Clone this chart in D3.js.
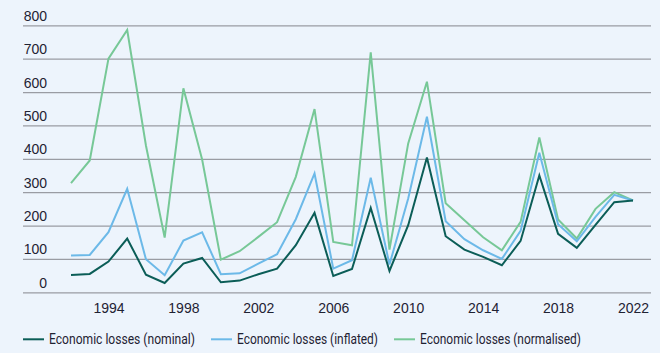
<!DOCTYPE html>
<meta charset="utf-8">
<style>
  body { margin: 0; background: #edf4fc; }
  svg { display: block; font-family: Roboto, "Noto Sans", sans-serif; }
  .tick text { fill: #1f2233; font-size: 14px; }
</style>
<body>
<script src="https://cdn.jsdelivr.net/npm/d3@7"></script>
<script>

// years 1992 - 2022
var years = d3.range(1992, 2023);

// economic losses
var nominal = [52, 55, 92, 161, 53, 28, 86, 103, 30, 35, 54, 71, 141, 238, 49, 70,
               253, 64, 201, 404, 168, 128, 106, 81, 154, 350, 175, 133, 202, 270, 275];
var inflated = [110, 112, 180, 310, 99, 51, 155, 180, 54, 57, 86, 114, 219, 356, 71, 96,
                343, 83, 281, 526, 213, 159, 126, 100, 184, 418, 204, 153, 226, 292, 275];
var normalised = [327, 395, 700, 786, 440, 164, 611, 398, 98, 123, 166, 210, 346, 549, 151, 141,
                  719, 128, 446, 631, 267, 216, 165, 126, 211, 464, 218, 161, 250, 300, 275];

var yTicks = [0, 100, 200, 300, 400, 500, 600, 700, 800];
var xTicks = [1994, 1998, 2002, 2006, 2010, 2014, 2018, 2022];

var series = [
    {name: "Economic losses (nominal)", values: nominal, color: "#0b5d57"},
    {name: "Economic losses (inflated)", values: inflated, color: "#6cb9e8"},
    {name: "Economic losses (normalised)", values: normalised, color: "#77c897"}
];

var width = 660, height = 353;
var plotLeft = 23, plotRight = 651;

var x = d3.scaleLinear().domain([1992, 2022]).range([71, 633]);
var y = d3.scaleLinear().domain([0, 800]).range([292.3, 25.3]);

var svg = d3.select("body").append("svg")
    .attr("width", width)
    .attr("height", height);

// gridlines + y labels (labels sit above the line)
var yAxis = svg.append("g")
    .attr("transform", "translate(" + plotLeft + ",0)")
    .call(d3.axisRight(y).tickValues(yTicks).tickSize(plotRight - plotLeft).tickFormat(d3.format("d")));
yAxis.select(".domain").remove();
yAxis.selectAll(".tick line").attr("stroke", "#9a9ca3").attr("stroke-width", 1.2);
yAxis.selectAll(".tick text")
    .attr("x", 24)
    .attr("dy", -5)
    .attr("text-anchor", "end");

// x labels
var xAxis = svg.append("g")
    .attr("transform", "translate(0," + y(0) + ")")
    .call(d3.axisBottom(x).tickValues(xTicks).tickSize(0).tickFormat(d3.format("d")));
xAxis.select(".domain").remove();
xAxis.selectAll(".tick text").attr("y", 10.5).attr("dy", "0.71em");

var line = d3.line()
    .x(function (d, i) { return x(years[i]); })
    .y(function (d) { return y(d); });

// draw normalised first so nominal is on top
series.slice().reverse().forEach(function (s) {
    svg.append("path")
        .datum(s.values)
        .attr("fill", "none")
        .attr("stroke", s.color)
        .attr("stroke-width", 2)
        .attr("d", line);
});

// legend - text in the original is a condensed face, so squeeze to width
var legendX = [23, 211, 394];
var legendW = [146, 141, 161];
var legend = svg.selectAll(".legend")
    .data(series)
    .enter().append("g")
    .attr("class", "legend")
    .attr("transform", function (d, i) { return "translate(" + legendX[i] + ",339.3)"; });

legend.append("line")
    .attr("x1", 0).attr("x2", 21)
    .attr("stroke", function (d) { return d.color; })
    .attr("stroke-width", 2);

legend.append("text")
    .attr("x", 26)
    .attr("dy", "0.35em")
    .attr("fill", "#1f2233")
    .attr("textLength", function (d, i) { return legendW[i]; })
    .attr("lengthAdjust", "spacingAndGlyphs")
    .style("font-size", "14px")
    .text(function (d) { return d.name; });

</script>
</body>
